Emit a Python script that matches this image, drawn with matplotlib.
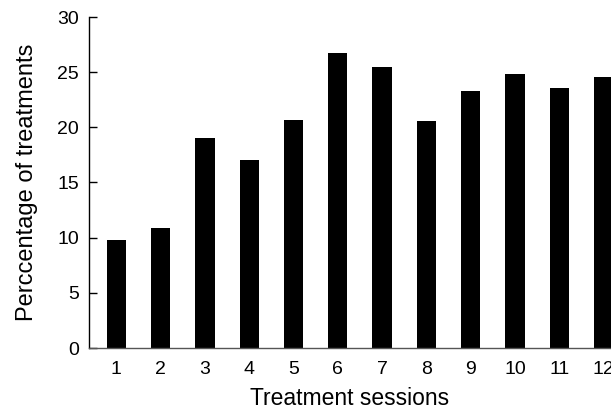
import matplotlib
matplotlib.use("Agg")
import matplotlib.pyplot as plt

sessions = [1, 2, 3, 4, 5, 6, 7, 8, 9, 10, 11, 12]
tick_labels = [str(s) for s in sessions]
percentages = [9.8, 10.9, 19.0, 17.0, 20.7, 26.7, 25.5, 20.6, 23.3, 24.8, 23.6, 24.6]
y_ticks = [0, 5, 10, 15, 20, 25, 30]

plt.rcParams['font.family'] = ['Liberation Sans', 'DejaVu Sans']

fig = plt.figure(figsize=(6.11, 4.11), dpi=100)
ax = fig.add_axes([88.7 / 611, 1 - 348 / 411, 1 - 88.7 / 611, (348 - 17) / 411])

ax.bar(sessions, percentages, width=0.436, color='black')

ax.set_xlim(0.377, 12.167)
ax.set_ylim(0, 30)
ax.set_yticks(y_ticks)
ax.set_xticks(sessions)
ax.set_xticklabels(tick_labels)

for s in ['top', 'right']:
    ax.spines[s].set_visible(False)
ax.spines['left'].set_linewidth(1.0)
ax.spines['bottom'].set_linewidth(1.0)
ax.spines['bottom'].set_color('#555555')

ax.tick_params(axis='y', direction='in', length=5.8, width=1.0, pad=7, labelsize=14)
ax.tick_params(axis='x', length=0, pad=9, labelsize=14)

ax.set_xlabel('Treatment sessions', fontsize=16.5, labelpad=7)
ax.set_ylabel('Perccentage of treatments', fontsize=17, labelpad=14)

fig.savefig('out.png', dpi=100)
